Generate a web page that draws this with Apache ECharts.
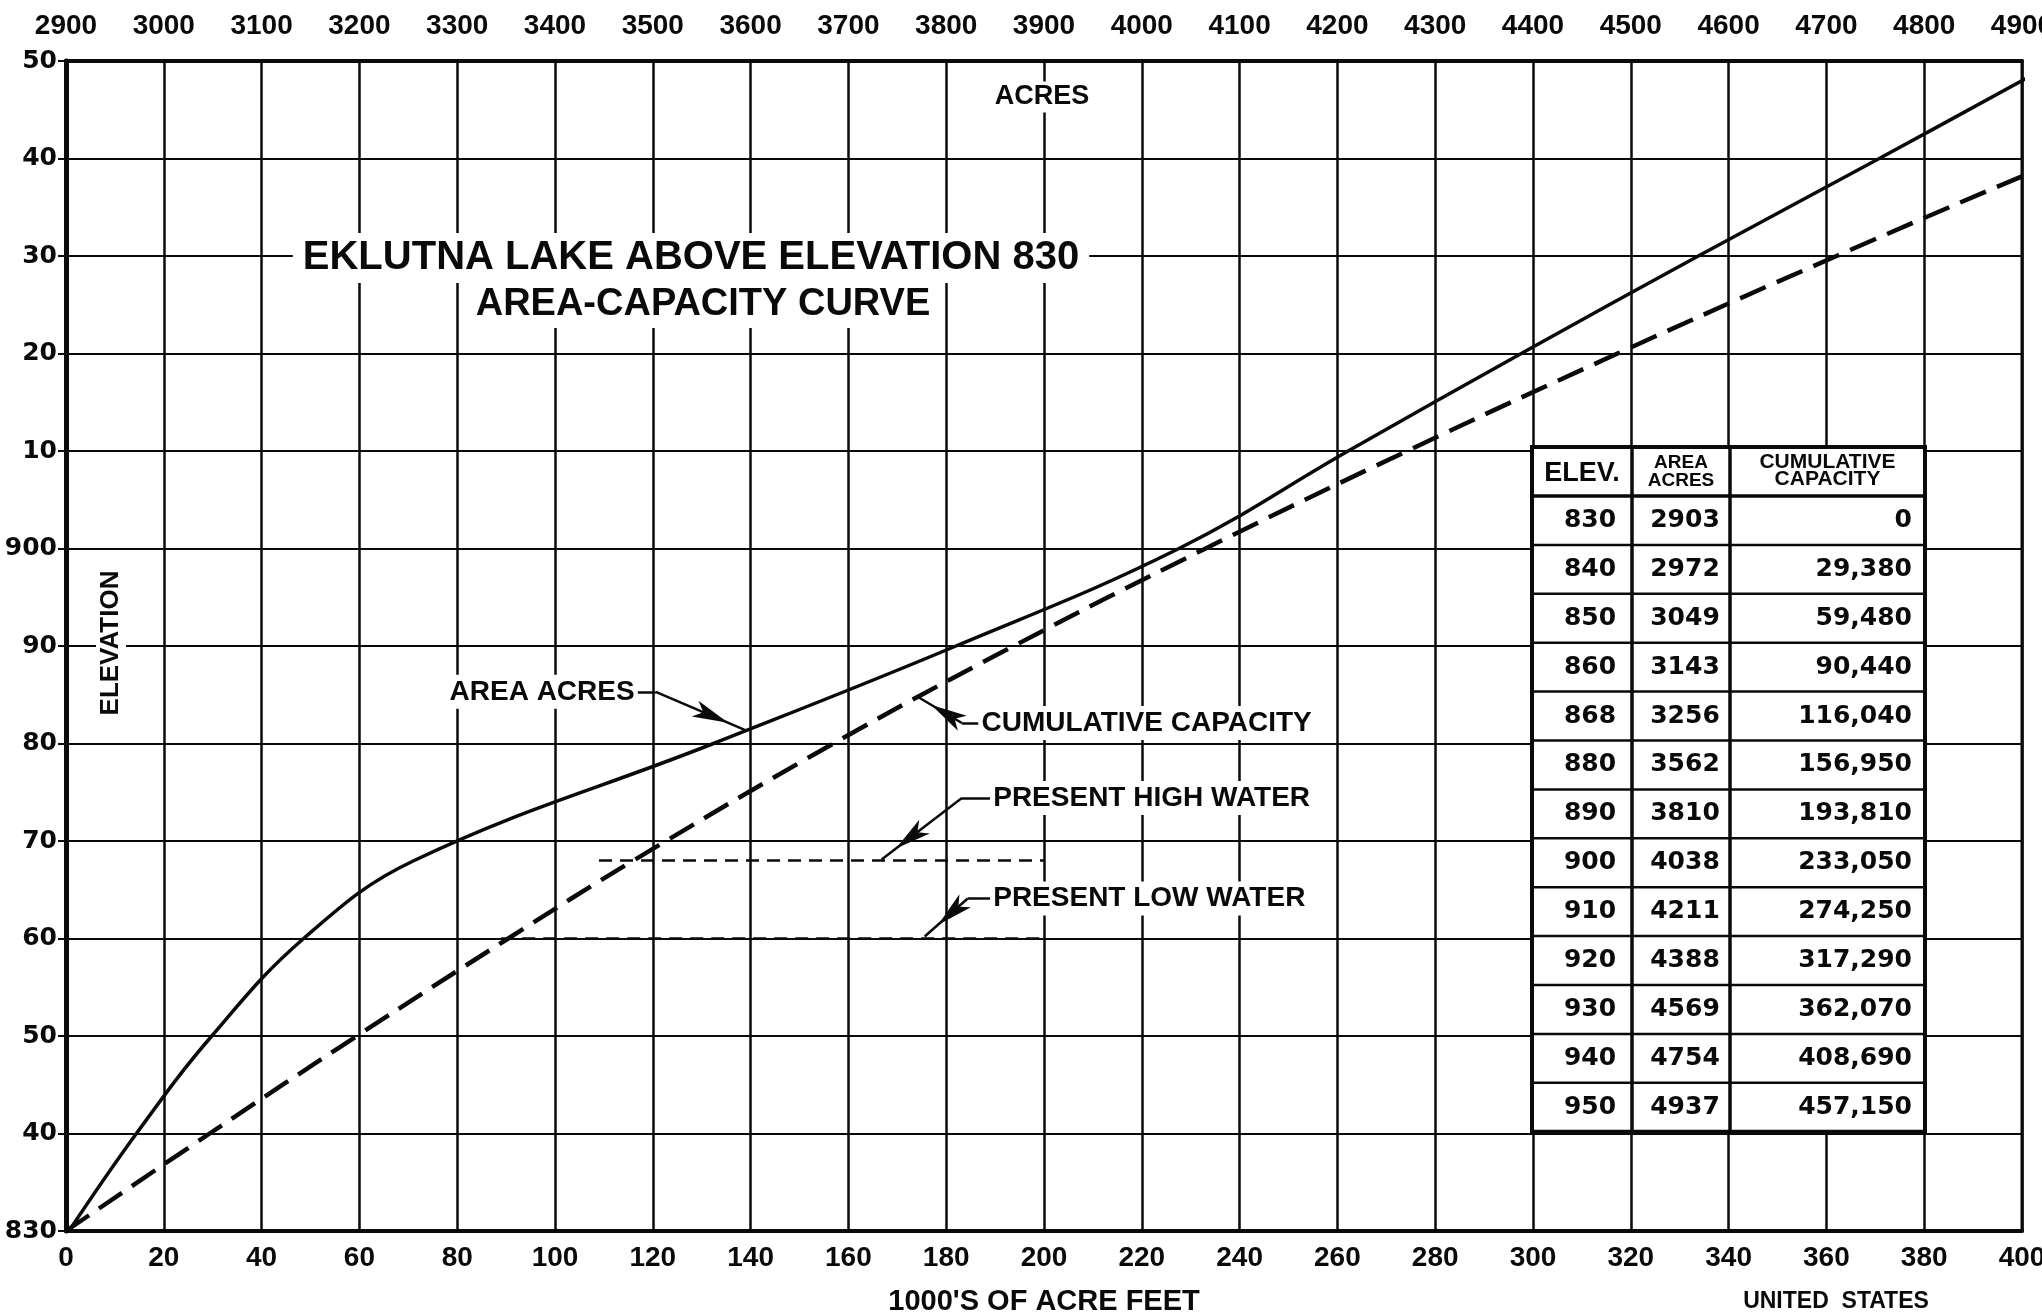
<!DOCTYPE html>
<html>
<head>
<meta charset="utf-8">
<script src="https://cdn.jsdelivr.net/npm/echarts@6/dist/echarts.min.js"></script>
<style>
html,body{margin:0;padding:0;background:#fff;}
#c{width:2042px;height:1313px;}
</style>
</head>
<body>
<div id="c"></div>
<script>
// ---------------- DATA ----------------
const elevations = [830, 840, 850, 860, 868, 880, 890, 900, 910, 920, 930, 940, 950];
const areaAcres = [2903, 2972, 3049, 3143, 3256, 3562, 3810, 4038, 4211, 4388, 4569, 4754, 4937];
const cumulativeCapacity = [0, 29380, 59480, 90440, 116040, 156950, 193810, 233050, 274250, 317290, 362070, 408690, 457150];

const capacityAxis = { min: 0, max: 400, interval: 20 };      // 1000's of acre feet
const acresAxis = { min: 2900, max: 4900, interval: 100 };    // acres
const elevationAxis = { min: 830, max: 950, interval: 10 };

const presentHighWater = { elevation: 868, fromCapacity: 109, toCapacity: 200 };
const presentLowWater = { elevation: 860, fromCapacity: 89, toCapacity: 200 };

// annotation anchors (capacity in 1000 AF, elevation)
const annotationLabels = [
  { name: 'AREA ACRES', at: [116.9, 885.3], side: 'left' },
  { name: 'CUMULATIVE CAPACITY', at: [186.6, 882.1], side: 'right' },
  { name: 'PRESENT HIGH WATER', at: [189.0, 874.4], side: 'right' },
  { name: 'PRESENT LOW WATER', at: [189.0, 864.1], side: 'right' }
];
const leaderSegments = [
  { from: [116.9, 885.3], to: [120.6, 885.3], arrow: false },
  { from: [120.6, 885.3], to: [138.8, 881.4], arrow: true },
  { from: [186.6, 882.1], to: [183.2, 882.1], arrow: false },
  { from: [183.2, 882.1], to: [173.8, 884.9], arrow: true },
  { from: [189.0, 874.4], to: [183.2, 874.4], arrow: false },
  { from: [183.2, 874.4], to: [166.8, 868.1], arrow: true },
  { from: [189.0, 864.1], to: [184.4, 864.1], arrow: false },
  { from: [184.4, 864.1], to: [175.6, 860.2], arrow: true }
];

// ---------------- STYLE ----------------
const INK = '#0a0a0a';
const SANS = '"Liberation Sans", Arial, sans-serif';
const NARROW = '"Liberation Sans Narrow", "Liberation Sans", Arial, sans-serif';
const WIDE = '"DejaVu Sans", sans-serif';

const areaData = elevations.map((e, i) => [areaAcres[i], e]);
const capacityData = elevations.map((e, i) => [cumulativeCapacity[i] / 1000, e]);

function elevLabel(v) {
  if (v === 830 || v === 900) return String(v);
  return String(v % 100);
}

function txt(text, x, y, font, align, extraStyle, extra) {
  return Object.assign({
    type: 'text', x: x, y: y, z: 20,
    style: Object.assign({
      text: text, font: font, fill: INK,
      align: align || 'center', textAlign: align || 'center',
      verticalAlign: 'middle', textVerticalAlign: 'middle'
    }, extraStyle || {})
  }, extra || {});
}

// table layout
const tableLayout = { left: 1532, top: 447, colWidths: [100, 98, 195], headerHeight: 49, rowHeight: 48.9 };

function buildTable() {
  const L = tableLayout;
  const xs = [L.left];
  L.colWidths.forEach(w => xs.push(xs[xs.length - 1] + w));
  const totalH = L.headerHeight + L.rowHeight * elevations.length;
  const ch = [];
  ch.push({ type: 'rect', z: 18, shape: { x: L.left, y: L.top, width: xs[3] - L.left, height: totalH },
    style: { fill: '#fff', stroke: INK, lineWidth: 4 } });
  for (let i = 0; i < elevations.length; i++) {
    const y = L.top + L.headerHeight + i * L.rowHeight;
    ch.push({ type: 'line', z: 19, shape: { x1: L.left, y1: y, x2: xs[3], y2: y },
      style: { stroke: INK, lineWidth: i === 0 ? 3.5 : 2.5 } });
  }
  [xs[1], xs[2]].forEach(xx => ch.push({ type: 'line', z: 19,
    shape: { x1: xx, y1: L.top, x2: xx, y2: L.top + totalH }, style: { stroke: INK, lineWidth: 3.5 } }));
  const hc = L.top + L.headerHeight / 2;
  ch.push(txt('ELEV.', (xs[0] + xs[1]) / 2, hc + 2, 'bold 27px ' + SANS, 'center'));
  ch.push(txt('AREA', (xs[1] + xs[2]) / 2, hc - 9, 'bold 19px ' + SANS, 'center'));
  ch.push(txt('ACRES', (xs[1] + xs[2]) / 2, hc + 9, 'bold 19px ' + SANS, 'center'));
  ch.push(txt('CUMULATIVE', (xs[2] + xs[3]) / 2, hc - 9, 'bold 21px ' + SANS, 'center'));
  ch.push(txt('CAPACITY', (xs[2] + xs[3]) / 2, hc + 8, 'bold 21px ' + SANS, 'center'));
  const numFont = 'bold 25px ' + WIDE;
  elevations.forEach((e, i) => {
    const cy = L.top + L.headerHeight + (i + 0.5) * L.rowHeight;
    ch.push(txt(String(e), xs[0] + 58, cy, numFont, 'center'));
    ch.push(txt(String(areaAcres[i]), (xs[1] + xs[2]) / 2 + 4, cy, numFont, 'center'));
    ch.push(txt(cumulativeCapacity[i].toLocaleString('en-US'), xs[3] - 13, cy, numFont, 'right'));
  });
  return ch;
}

const chart = echarts.init(document.getElementById('c'), null, { renderer: 'canvas', width: 2042, height: 1313 });

const axisLabelStyle = { color: INK, fontFamily: NARROW, fontWeight: 'bold', fontSize: 28 };

const option = {
  animation: false,
  backgroundColor: '#fff',
  grid: { left: 66, right: 20, top: 61, bottom: 82, containLabel: false, outerBoundsMode: 'none',
    show: true, borderColor: INK, borderWidth: 3, backgroundColor: 'transparent' },
  xAxis: [
    {
      type: 'value', position: 'bottom',
      min: capacityAxis.min, max: capacityAxis.max, interval: capacityAxis.interval,
      axisLine: { show: true, lineStyle: { color: INK, width: 4 } },
      axisTick: { show: false },
      axisLabel: Object.assign({ margin: 13, formatter: v => String(v) }, axisLabelStyle),
      splitLine: { show: true, lineStyle: { color: INK, width: 2.5 } },
      name: "1000'S OF ACRE FEET", nameLocation: 'middle', nameGap: 56,
      nameTextStyle: { color: INK, fontFamily: SANS, fontWeight: 'bold', fontSize: 29 }
    },
    {
      type: 'value', position: 'top',
      min: acresAxis.min, max: acresAxis.max, interval: acresAxis.interval,
      axisLine: { show: true, lineStyle: { color: INK, width: 4 } },
      axisTick: { show: false },
      axisLabel: Object.assign({ margin: 21, formatter: v => String(v) }, axisLabelStyle),
      splitLine: { show: false }
    }
  ],
  yAxis: [{
    type: 'value',
    min: elevationAxis.min, max: elevationAxis.max, interval: elevationAxis.interval,
    axisLine: { show: true, lineStyle: { color: INK, width: 5 } },
    axisTick: { show: true, length: 8, lineStyle: { color: INK, width: 2 } },
    axisLabel: { color: INK, fontFamily: WIDE, fontWeight: 'bold', fontSize: 25, margin: 9, formatter: elevLabel },
    splitLine: { show: true, lineStyle: { color: INK, width: 2 } }
  }],
  graphic: [
    txt('EKLUTNA LAKE ABOVE ELEVATION 830', 691, 258, 'bold 40px ' + SANS, 'center',
      { backgroundColor: '#fff', padding: [5, 10] }),
    txt('AREA-CAPACITY CURVE', 703, 305, 'bold 38px ' + SANS, 'center',
      { backgroundColor: '#fff', padding: [4, 10] }),
    txt('ACRES', 1042, 97, 'bold 27px ' + SANS, 'center',
      { backgroundColor: '#fff', padding: [2, 6] }),
    txt('ELEVATION', 111, 643, 'bold 26px ' + SANS, 'center',
      { backgroundColor: '#fff', padding: [2, 6] }, { rotation: Math.PI / 2 }),
    txt('UNITED  STATES', 1836, 1302, 'bold 23px ' + SANS, 'center'),
    { type: 'group', children: buildTable() }
  ],
  series: [
    {
      type: 'line', name: 'AREA ACRES', xAxisIndex: 1, yAxisIndex: 0,
      data: areaData, smooth: 0.4, symbol: 'none', clip: true, z: 4,
      lineStyle: { color: INK, width: 3.5 }
    },
    {
      type: 'line', name: 'CUMULATIVE CAPACITY', xAxisIndex: 0, yAxisIndex: 0,
      data: capacityData, smooth: 0.4, symbol: 'none', clip: true, z: 4,
      lineStyle: { color: INK, width: 4.5, type: [28, 12] }
    },
    {
      type: 'line', name: 'PRESENT HIGH WATER', xAxisIndex: 0, yAxisIndex: 0,
      data: [[presentHighWater.fromCapacity, presentHighWater.elevation], [presentHighWater.toCapacity, presentHighWater.elevation]],
      symbol: 'none', z: 3, lineStyle: { color: INK, width: 2.5, type: [13, 8] }
    },
    {
      type: 'line', name: 'PRESENT LOW WATER', xAxisIndex: 0, yAxisIndex: 0,
      data: [[presentLowWater.fromCapacity, presentLowWater.elevation], [presentLowWater.toCapacity, presentLowWater.elevation]],
      symbol: 'none', z: 3, lineStyle: { color: INK, width: 2.5, type: [13, 8] },
      markLine: {
        silent: true, animation: false, symbol: ['none', 'none'],
        label: { show: false },
        lineStyle: { color: INK, width: 2.5, type: 'solid' },
        data: leaderSegments.map(s => [
          { coord: s.from, symbol: 'none' },
          s.arrow ? { coord: s.to, symbol: 'arrow', symbolSize: [13, 36], symbolOffset: [0, 18] } : { coord: s.to, symbol: 'none' }
        ])
      },
      markPoint: {
        silent: true, animation: false, symbol: 'rect', symbolSize: 0,
        label: { show: true, formatter: '{b}', color: INK, fontFamily: SANS, fontWeight: 'bold', fontSize: 28,
          backgroundColor: '#fff', padding: [3, 3], distance: 0 },
        data: annotationLabels.map(a => ({ name: a.name, coord: a.at, label: { position: a.side } }))
      }
    }
  ]
};

chart.setOption(option);
</script>
</body>
</html>
